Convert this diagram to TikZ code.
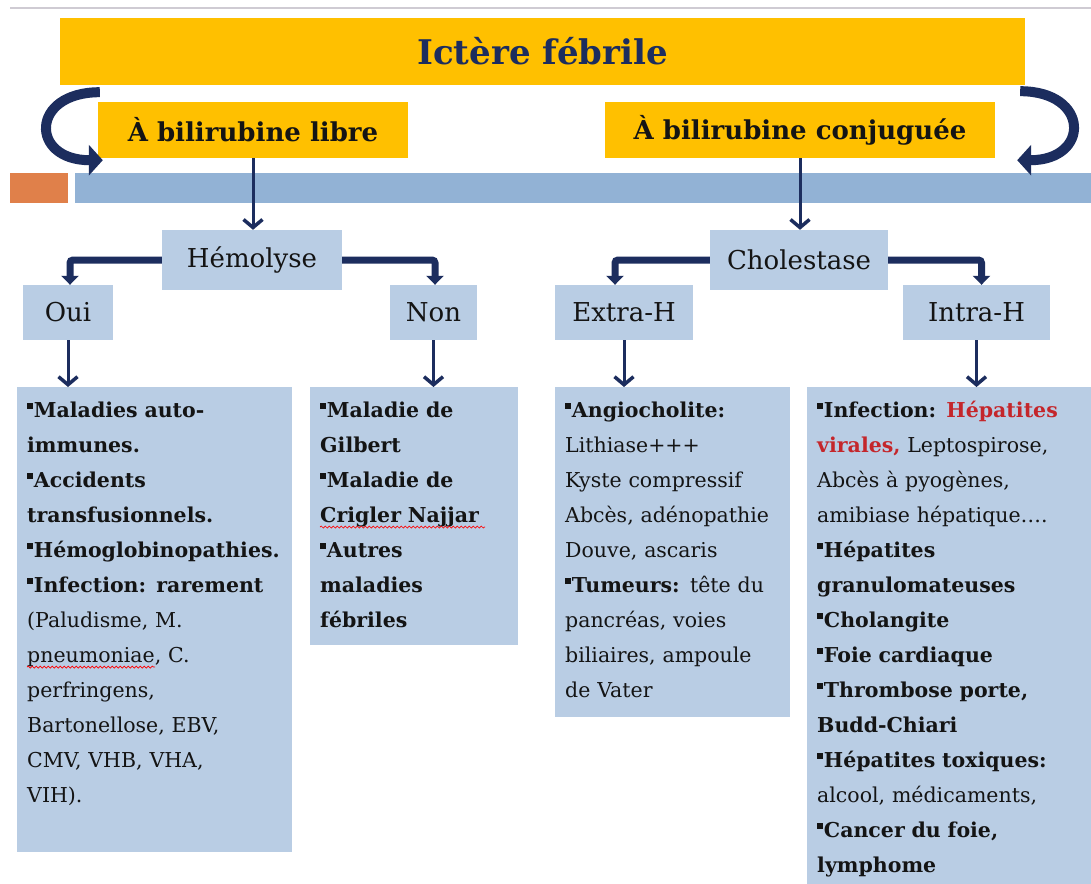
\documentclass[tikz,border=0pt]{standalone}
\usepackage{fontspec}
\setmainfont{DejaVu Serif}
\usepackage{xcolor}
\usepackage{tikz}
\usetikzlibrary{arrows.meta, positioning, decorations.pathmorphing}

\definecolor{jaune}{HTML}{FFC000}
\definecolor{bleuclair}{HTML}{B9CDE4}
\definecolor{bleubande}{HTML}{92B2D5}
\definecolor{orangeb}{HTML}{E0804A}
\definecolor{marine}{HTML}{1C2D5E}
\definecolor{grisligne}{HTML}{CFCBD3}
\definecolor{rougeb}{HTML}{C4262B}
\definecolor{noirtexte}{HTML}{141414}

\newcommand\puce{\rule[0.4em]{0.27em}{0.3em}\hspace{0.06em}}

\begin{document}
\begin{tikzpicture}[
        x=1pt, y=-1pt,
        bandeau/.style={
            rectangle,
            fill=jaune,
            inner sep=0pt,
            minimum width=965pt,
            minimum height=67pt,
            text=marine,
            font=\fontsize{34}{40}\selectfont\bfseries
        },
        entete/.style={
            rectangle,
            fill=jaune,
            inner sep=0pt,
            minimum height=56pt,
            text=noirtexte,
            font=\fontsize{26}{30}\selectfont\bfseries
        },
        choix/.style={
            rectangle,
            fill=bleuclair,
            inner sep=0pt,
            minimum height=55pt,
            text=noirtexte,
            font=\fontsize{26}{30}\selectfont
        },
        liste/.style={
            rectangle,
            fill=bleuclair,
            anchor=north west,
            align=left,
            inner xsep=10pt,
            inner ysep=0pt,
            text height=30pt,
            text=noirtexte,
            font=\fontsize{20.5}{35}\selectfont
        },
        fleche/.style={
            draw=marine,
            line width=3pt,
            -{Straight Barb[length=8pt,width=19pt,line width=3.5pt]}
        },
        coude/.style={
            draw=marine,
            line width=7pt,
            rounded corners=3pt,
            -{Triangle[length=9pt,width=17pt]}
        },
        courbe/.style={
            draw=marine,
            line width=10pt,
            -{Triangle[length=14pt,width=30pt]}
        },
        vague/.style={
            draw=red,
            line width=0.7pt,
            decorate,
            decoration={snake, amplitude=1pt, segment length=4pt}
        }
    ]

    \fill[white] (0,0) rectangle (1091,883);
    \useasboundingbox (0,0) rectangle (1091,883);

    \draw[grisligne, line width=1.5pt] (10,8) -- (1091,8);
    \fill[orangeb] (10,173) rectangle (68,203);
    \fill[bleubande] (75,173) rectangle (1091,203);

    \node[bandeau] (titre) at (542.5,51.5) {Ictère fébrile};

    \node[entete, minimum width=310pt] (libre) at (253,130) {À bilirubine libre};
    \node[entete, minimum width=390pt] (conj) at (800,130) {À bilirubine conjuguée};

    \node[choix, minimum width=180pt, minimum height=60pt] (hemo) at (252,260) {Hémolyse};
    \node[choix, minimum width=178pt, minimum height=60pt] (chol) at (799,260) {Cholestase};

    \node[choix, minimum width=90pt] (oui) at (68,312.5) {Oui};
    \node[choix, minimum width=87pt] (non) at (433.5,312.5) {Non};
    \node[choix, minimum width=138pt] (extra) at (624,312.5) {Extra-H};
    \node[choix, minimum width=147pt] (intra) at (976.5,312.5) {Intra-H};

    \node[liste, text width=255pt, text depth=435pt] (listeoui) at (17,387) {
        \puce\textbf{Maladies auto-}\\
        \textbf{immunes.}\\
        \puce\textbf{Accidents}\\
        \textbf{transfusionnels.}\\
        \puce\textbf{Hémoglobinopathies.}\\
        \puce\textbf{Infection: rarement}\\
        (Paludisme, M.\\
        pneumoniae, C.\\
        perfringens,\\
        Bartonellose, EBV,\\
        CMV, VHB, VHA,\\
        VIH).
    };

    \node[liste, text width=188pt, text depth=228pt, font=\fontsize{20.5}{35}\selectfont\bfseries] (listenon) at (310,387) {
        \puce Maladie de\\
        Gilbert\\
        \puce Maladie de\\
        Crigler Najjar\\
        \puce Autres\\
        maladies\\
        fébriles
    };

    \node[liste, text width=215pt, text depth=300pt] (listeextra) at (555,387) {
        \puce\textbf{Angiocholite:}\\
        Lithiase+++\\
        Kyste compressif\\
        Abcès, adénopathie\\
        Douve, ascaris\\
        \puce\textbf{Tumeurs:} tête du\\
        pancréas, voies\\
        biliaires, ampoule\\
        de Vater
    };

    \node[liste, text width=280pt, text depth=480pt] (listeintra) at (807,387) {
        \puce\textbf{Infection: \textcolor{rougeb}{Hépatites}}\\
        \textbf{\textcolor{rougeb}{virales,}} Leptospirose,\\
        Abcès à pyogènes,\\
        amibiase hépatique….\\
        \puce\textbf{Hépatites}\\
        \textbf{granulomateuses}\\
        \puce\textbf{Cholangite}\\
        \puce\textbf{Foie cardiaque}\\
        \puce\textbf{Thrombose porte,}\\
        \textbf{Budd-Chiari}\\
        \puce\textbf{Hépatites toxiques:}\\
        alcool, médicaments,\\
        \puce\textbf{Cancer du foie,}\\
        \textbf{lymphome}
    };

    \draw[vague] ([xshift=10pt,yshift=-280pt]listeoui.north west) -- +(128,0);
    \draw[vague] ([xshift=10pt,yshift=-140pt]listenon.north west) -- +(165,0);

    \draw[courbe] ([xshift=40pt,yshift=-7pt]titre.south west)
        .. controls +(-70,0) and +(-73,0) ..
        ([xshift=5pt,yshift=-2pt]libre.south west);
    \draw[courbe] ([xshift=-5pt,yshift=-6pt]titre.south east)
        .. controls +(70,0) and +(73,0) ..
        ([xshift=22pt,yshift=-2pt]conj.south east);

    \draw[fleche] (libre.south) -- (libre.south |- hemo.north);
    \draw[fleche] (conj.south) -- (conj.south |- chol.north);

    \draw[coude] (hemo.west) -| ([xshift=2pt]oui.north);
    \draw[coude] (hemo.east) -| ([xshift=1.5pt]non.north);
    \draw[coude] (chol.west) -| ([xshift=-9pt]extra.north);
    \draw[coude] (chol.east) -| ([xshift=5pt]intra.north);

    \draw[fleche] (oui.south) -- (oui.south |- listeoui.north);
    \draw[fleche] (non.south) -- (non.south |- listenon.north);
    \draw[fleche] (extra.south) -- (extra.south |- listeextra.north);
    \draw[fleche] (intra.south) -- (intra.south |- listeintra.north);

\end{tikzpicture}
\end{document}
